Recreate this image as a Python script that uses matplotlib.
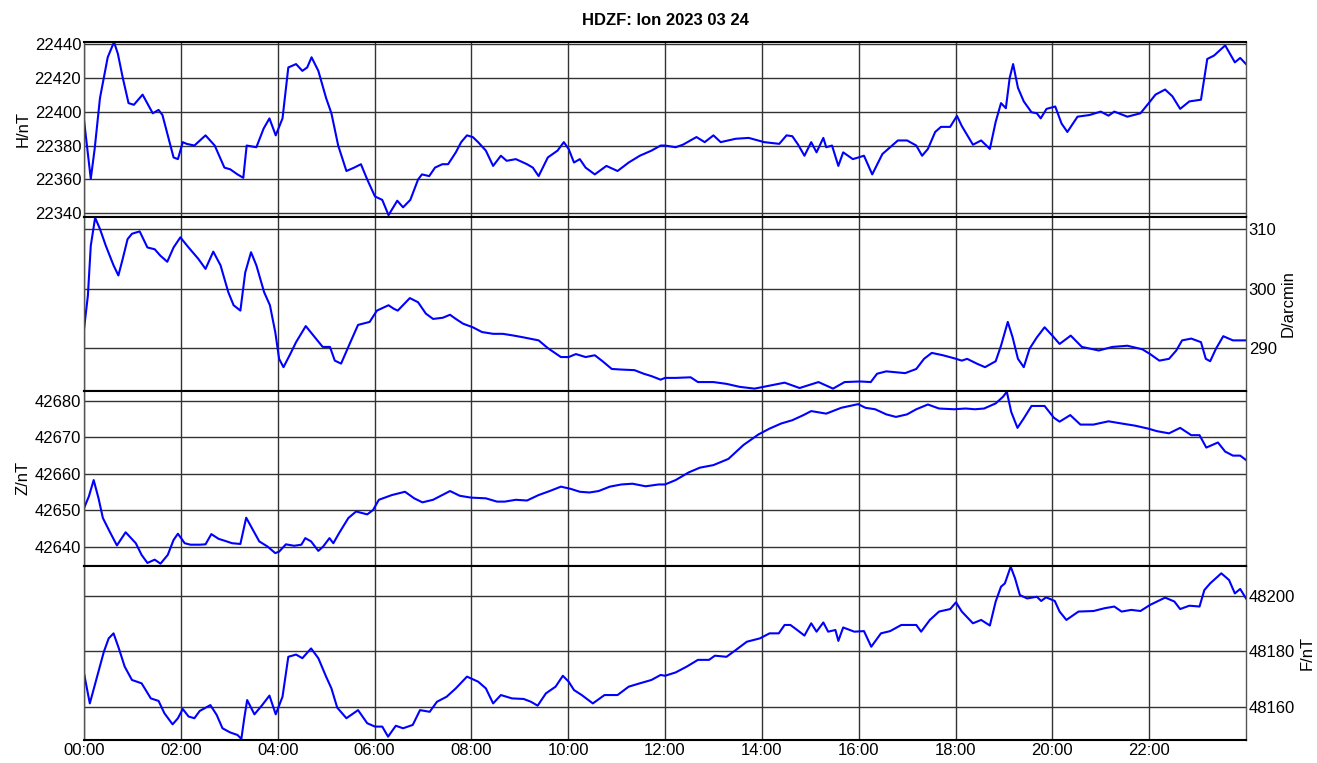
import matplotlib
matplotlib.use("Agg")
import matplotlib.pyplot as plt
from matplotlib.ticker import FixedLocator, FuncFormatter

plt.rcParams['font.family'] = ['Liberation Sans', 'DejaVu Sans']

# H component (nT), time in hours
h_time = [0.0, 0.14, 0.22, 0.33, 0.49, 0.62, 0.70, 0.80, 0.92, 1.03, 1.21, 1.42, 1.54, 1.62, 1.73, 1.85,
          1.94, 2.04, 2.12, 2.28, 2.51, 2.70, 2.90, 3.02, 3.17, 3.29, 3.36, 3.56, 3.71, 3.83, 3.96, 4.10,
          4.22, 4.38, 4.51, 4.61, 4.70, 4.84, 5.00, 5.11, 5.25, 5.42, 5.58, 5.72, 5.85, 6.01, 6.16, 6.29,
          6.47, 6.59, 6.74, 6.90, 6.98, 7.13, 7.25, 7.40, 7.52, 7.68, 7.79, 7.91, 8.03, 8.14, 8.30, 8.45,
          8.61, 8.73, 8.92, 9.15, 9.27, 9.39, 9.58, 9.78, 9.91, 10.01, 10.12, 10.24, 10.36, 10.55, 10.79,
          11.02, 11.25, 11.48, 11.72, 11.91,
          12.0, 12.22, 12.37, 12.65, 12.82, 13.0, 13.15, 13.46, 13.73, 14.05, 14.36, 14.51, 14.63, 14.75,
          14.88, 15.02, 15.13, 15.27, 15.33, 15.45, 15.58, 15.68, 15.88, 16.11, 16.28, 16.49, 16.65, 16.81,
          17.0, 17.19, 17.31, 17.43, 17.58, 17.70, 17.89, 18.03, 18.13, 18.36, 18.53, 18.71, 18.83, 18.94,
          19.04, 19.12, 19.19, 19.29, 19.41, 19.57, 19.68, 19.76, 19.88, 20.06, 20.19, 20.31, 20.52, 20.77,
          21.0, 21.16, 21.28, 21.55, 21.82, 22.02, 22.13, 22.33, 22.48, 22.64, 22.83, 23.07, 23.20, 23.34,
          23.57, 23.77, 23.88, 24.0]
h_vals = [22395, 22360.4, 22378, 22408, 22432, 22441, 22434, 22420, 22405, 22404, 22410, 22399, 22401, 22398,
          22386, 22373, 22372, 22382, 22381, 22380, 22386, 22380, 22367, 22366, 22363, 22361, 22380, 22379,
          22390, 22396, 22386, 22396, 22426, 22428, 22424, 22426, 22432, 22424, 22408, 22399, 22380, 22365,
          22367, 22369, 22360, 22350, 22348, 22339, 22347.5, 22343.6, 22348, 22360, 22363, 22362, 22367,
          22369, 22369, 22376, 22382, 22386, 22385, 22382, 22377, 22368, 22374, 22371, 22372, 22369, 22367,
          22362, 22373, 22377, 22382, 22378, 22370, 22372, 22367, 22363, 22368, 22365, 22370, 22374, 22377,
          22380,
          22380, 22379, 22380.5, 22385, 22382, 22386, 22382, 22384, 22384.5, 22382, 22381, 22386, 22385.5,
          22380.5, 22374, 22382, 22376, 22384.5, 22379, 22380, 22368, 22376, 22372, 22374, 22363, 22375,
          22379, 22383, 22383, 22380, 22374, 22378, 22388, 22391, 22391, 22397.5, 22391.5, 22380.5, 22383,
          22378, 22394, 22405, 22402, 22420, 22428, 22414, 22406, 22399.6, 22399, 22396, 22401.6, 22403,
          22393, 22388, 22397, 22398, 22400, 22397.6, 22400, 22397, 22399, 22406, 22410, 22413, 22409,
          22401.6, 22406, 22407, 22431, 22433, 22439, 22429, 22431.6, 22428]

# D component (arcmin)
d_time = [0.0, 0.08, 0.14, 0.23, 0.33, 0.45, 0.61, 0.71, 0.80, 0.90, 0.99, 1.15, 1.31, 1.46, 1.58, 1.72,
          1.85, 1.99, 2.16, 2.36, 2.51, 2.67, 2.82, 2.98, 3.09, 3.23, 3.33, 3.45, 3.56, 3.72, 3.84, 3.95,
          4.03, 4.12, 4.26, 4.38, 4.58, 4.77, 4.93, 5.08, 5.18, 5.31, 5.47, 5.66, 5.90, 6.05, 6.29, 6.40,
          6.48, 6.60, 6.73, 6.90, 7.06, 7.21, 7.41, 7.56, 7.68, 7.83, 8.03, 8.22, 8.45, 8.65, 8.88, 9.08,
          9.39, 9.58, 9.85, 10.01, 10.16, 10.36, 10.55, 10.71, 10.90, 11.10, 11.37, 11.56, 11.72, 11.91,
          12.0, 12.22, 12.53, 12.68, 13.0, 13.27, 13.54, 13.85, 14.16, 14.47, 14.78, 15.17, 15.47, 15.71,
          16.03, 16.25, 16.38, 16.57, 16.96, 17.19, 17.35, 17.51, 17.74, 17.97, 18.13, 18.24, 18.44, 18.61,
          18.83, 18.94, 19.08, 19.18, 19.29, 19.41, 19.53, 19.68, 19.84, 20.0, 20.15, 20.38, 20.61, 20.96,
          21.24, 21.55, 21.86, 22.02, 22.21, 22.41, 22.56, 22.68, 22.87, 23.07, 23.17, 23.26, 23.38, 23.53,
          23.73, 24.0]
d_vals = [293.2, 298.8, 307.2, 311.9, 310, 307.2, 303.9, 302.2, 305, 308.3, 309.2, 309.6, 306.9, 306.6, 305.5,
          304.5, 306.9, 308.6, 306.9, 305, 303.3, 306.2, 303.9, 299.4, 297.2, 296.3, 302.7, 306.1, 303.9,
          299.4, 297.2, 292.7, 288.2, 286.8, 289, 291, 293.7, 291.8, 290.2, 290.2, 287.9, 287.4, 290.4,
          293.9, 294.4, 296.3, 297.2, 296.6, 296.3, 297.3, 298.4, 297.7, 295.8, 294.9, 295.1, 295.6, 294.9,
          294.1, 293.5, 292.7, 292.4, 292.4, 292.1, 291.8, 291.3, 290, 288.5, 288.5, 289, 288.5, 288.8,
          287.8, 286.5, 286.4, 286.3, 285.7, 285.3, 284.7,
          285, 285, 285.1, 284.3, 284.3, 284, 283.5, 283.2, 283.7, 284.2, 283.3, 284.3, 283.2, 284.3, 284.4,
          284.3, 285.7, 286.1, 285.8, 286.5, 288.2, 289.2, 288.8, 288.3, 287.9, 288.2, 287.4, 286.8, 287.8,
          290.4, 294.4, 291.8, 288.2, 286.8, 289.9, 291.8, 293.5, 292.1, 290.7, 292.1, 290.2, 289.6, 290.2,
          290.4, 289.8, 289, 287.9, 288.2, 289.6, 291.3, 291.6, 291, 288.2, 287.8, 289.9, 292, 291.3, 291.3]

# Z component (nT)
z_time = [0.0, 0.1, 0.2, 0.30, 0.39, 0.53, 0.68, 0.86, 1.07, 1.19, 1.31, 1.46, 1.58, 1.73, 1.85, 1.94, 2.08,
          2.20, 2.39, 2.51, 2.63, 2.78, 2.90, 3.06, 3.23, 3.35, 3.47, 3.62, 3.79, 3.95, 4.03, 4.17, 4.34,
          4.49, 4.57, 4.69, 4.84, 4.94, 5.07, 5.15, 5.27, 5.46, 5.62, 5.85, 5.97, 6.09, 6.36, 6.63, 6.82,
          6.99, 7.21, 7.56, 7.76, 7.99, 8.30, 8.53, 8.69, 8.92, 9.15, 9.39, 9.62, 9.85, 10.05, 10.24, 10.44,
          10.63, 10.86, 11.10, 11.33, 11.60, 11.87,
          12.0, 12.22, 12.49, 12.72, 13.0, 13.31, 13.62, 13.93, 14.16, 14.40, 14.63, 14.86, 15.02, 15.33,
          15.64, 15.99, 16.14, 16.34, 16.57, 16.77, 17.0, 17.19, 17.43, 17.66, 17.97, 18.21, 18.40, 18.59,
          18.83, 18.98, 19.06, 19.15, 19.28, 19.41, 19.57, 19.84, 20.03, 20.15, 20.37, 20.58, 20.85, 21.16,
          21.43, 21.71, 21.98, 22.16, 22.41, 22.64, 22.87, 23.04, 23.18, 23.42, 23.57, 23.73, 23.88, 24.0]
z_vals = [42650.6, 42653.8, 42658.3, 42653.3, 42647.9, 42644.2, 42640.4, 42644, 42641, 42637.8, 42635.6,
          42636.5, 42635.4, 42637.8, 42641.9, 42643.6, 42641, 42640.6, 42640.6, 42640.7, 42643.5, 42642.2,
          42641.7, 42641, 42640.8, 42648, 42645.1, 42641.5, 42640.1, 42638.3, 42638.7, 42640.7, 42640.3,
          42640.6, 42642.4, 42641.5, 42638.9, 42640.1, 42642.4, 42641, 42643.8, 42647.9, 42649.7, 42648.9,
          42650.1, 42652.9, 42654.2, 42655.1, 42653.3, 42652.2, 42652.9, 42655.3, 42654, 42653.5, 42653.3,
          42652.4, 42652.4, 42652.9, 42652.7, 42654.2, 42655.3, 42656.5, 42655.9, 42655.1, 42654.9, 42655.3,
          42656.5, 42657.1, 42657.3, 42656.6, 42657.1,
          42657.1, 42658.3, 42660.4, 42661.7, 42662.4, 42664.1, 42667.9, 42670.8, 42672.4, 42673.8, 42674.7,
          42676.1, 42677.2, 42676.5, 42678.1, 42679.1, 42678.1, 42677.7, 42676.3, 42675.6, 42676.3, 42677.7,
          42679, 42677.9, 42677.7, 42677.9, 42677.7, 42677.9, 42679.3, 42681.1, 42682.5, 42677, 42672.6,
          42675.2, 42678.6, 42678.6, 42675.4, 42674.3, 42676.1, 42673.5, 42673.5, 42674.4, 42673.8, 42673.2,
          42672.4, 42671.7, 42671.1, 42672.6, 42670.6, 42670.6, 42667.2, 42668.6, 42666.1, 42665, 42665,
          42663.8]

# F total field (nT)
f_time = [0.0, 0.12, 0.26, 0.41, 0.51, 0.61, 0.72, 0.84, 0.99, 1.19, 1.38, 1.54, 1.66, 1.83, 1.94, 2.04,
          2.16, 2.28, 2.39, 2.61, 2.74, 2.86, 3.02, 3.17, 3.25, 3.31, 3.37, 3.52, 3.68, 3.83, 3.96, 4.10,
          4.22, 4.38, 4.51, 4.69, 4.84, 5.0, 5.11, 5.23, 5.42, 5.66, 5.85, 6.01, 6.16, 6.28, 6.44, 6.59,
          6.79, 6.94, 7.14, 7.29, 7.49, 7.68, 7.91, 8.14, 8.30, 8.45, 8.61, 8.84, 9.08, 9.23, 9.37, 9.54,
          9.74, 9.89, 10.01, 10.12, 10.28, 10.51, 10.75, 11.02, 11.25, 11.48, 11.72, 11.91,
          12.0, 12.22, 12.45, 12.68, 12.91, 13.03, 13.27, 13.46, 13.69, 13.96, 14.16, 14.35, 14.47, 14.59,
          14.70, 14.88, 15.02, 15.13, 15.27, 15.37, 15.52, 15.58, 15.68, 15.91, 16.11, 16.26, 16.46, 16.65,
          16.88, 17.19, 17.29, 17.47, 17.66, 17.89, 18.01, 18.13, 18.36, 18.53, 18.71, 18.83, 18.94, 19.02,
          19.14, 19.23, 19.33, 19.48, 19.68, 19.77, 19.87, 20.05, 20.15, 20.29, 20.54, 20.85, 21.08, 21.28,
          21.43, 21.63, 21.82, 22.02, 22.33, 22.52, 22.64, 22.83, 23.04, 23.14, 23.26, 23.49, 23.65, 23.77,
          23.88, 24.0]
f_vals = [48172.2, 48161.4, 48170.4, 48179.9, 48184.7, 48186.5, 48181.1, 48174.6, 48169.8, 48168.6, 48163.2,
          48162.3, 48157.9, 48153.9, 48156.1, 48159.4, 48156.7, 48156.1, 48158.7, 48160.8, 48157.3, 48152.5,
          48151.0, 48150.1, 48148.7, 48156.1, 48162.6, 48157.5, 48160.8, 48164.2, 48157.5, 48163.8, 48178.1,
          48178.9, 48177.6, 48181.1, 48177.6, 48171, 48166.8, 48159.9, 48156.1, 48159, 48154.3, 48153.1,
          48153.1, 48149.5, 48153.4, 48152.5, 48153.7, 48159, 48158.4, 48162, 48163.8, 48166.8, 48171,
          48169.2, 48166.8, 48161.4, 48164.4, 48163.2, 48163, 48162, 48160.6, 48165, 48167.4, 48171.3,
          48169.2, 48166.2, 48164.4, 48161.4, 48164.4, 48164.4, 48167.4, 48168.6, 48169.8, 48171.6,
          48171.3, 48172.5, 48174.6, 48177, 48177, 48178.5, 48178.1, 48180.5, 48183.5, 48184.7, 48186.5,
          48186.5, 48189.5, 48189.5, 48188.1, 48185.7, 48190.1, 48187.1, 48190.4, 48187.1, 48187.7, 48183.8,
          48188.6, 48187.1, 48187.3, 48181.7, 48186.5, 48187.3, 48189.5, 48189.5, 48187.1, 48191.3, 48194.3,
          48195.2, 48197.6, 48194.3, 48190.1, 48191.3, 48189.3, 48197.9, 48203.2, 48204.4, 48210.4, 48206.2,
          48200.2, 48199, 48199.6, 48198.1, 48199.4, 48198.1, 48194.3, 48191.3, 48194.3, 48194.5, 48195.5,
          48196.1, 48194.3, 48194.9, 48194.5, 48196.7, 48199.3, 48197.9, 48195.2, 48196.4, 48196.1, 48202,
          48204.4, 48208, 48205.6, 48200.8, 48202.4, 48199]

panels = [
    (h_time, h_vals, 'H/nT', 'left', [22340, 22360, 22380, 22400, 22420, 22440], (22338.2, 22441)),
    (d_time, d_vals, 'D/arcmin', 'right', [290, 300, 310], (282.8, 312.1)),
    (z_time, z_vals, 'Z/nT', 'left', [42640, 42650, 42660, 42670, 42680], (42634.9, 42682.7)),
    (f_time, f_vals, 'F/nT', 'right', [48160, 48180, 48200], (48148.3, 48210.8)),
]

fig = plt.figure(figsize=(13.17, 7.63), dpi=100)
axes = fig.subplots(4, 1, sharex=True)
fig.subplots_adjust(left=84/1317, right=1246/1317, top=1-42/763, bottom=23/763, hspace=0)

for ax, (t, v, label, side, ticks, lim) in zip(axes, panels):
    ax.plot(t, v, color='#0000ff', lw=1.5)
    ax.set_xlim(0, 24)
    ax.set_ylim(*lim)
    ax.yaxis.set_major_locator(FixedLocator(ticks))
    ax.yaxis.set_label_position(side)
    if side == 'right':
        ax.yaxis.tick_right()
    ax.set_ylabel(label, fontsize=12, labelpad=3)
    ax.xaxis.set_major_locator(FixedLocator(range(0, 24, 2)))
    ax.grid(True, color='#333333', lw=1)
    ax.tick_params(length=0, labelsize=12, pad=2)
    for s in ax.spines.values():
        s.set_color('#555555')
        s.set_linewidth(1)
    ax.spines['top'].set_color('black')
    ax.spines['bottom'].set_color('black')
    ax.spines['top'].set_linewidth(1.5)
    ax.spines['bottom'].set_linewidth(1.5)

axes[-1].xaxis.set_major_formatter(FuncFormatter(lambda x, p: '%02d:00' % int(x)))
axes[0].set_title('HDZF: lon 2023 03 24', fontsize=12, fontweight='bold', pad=12)

fig.savefig('out.png', dpi=100)
